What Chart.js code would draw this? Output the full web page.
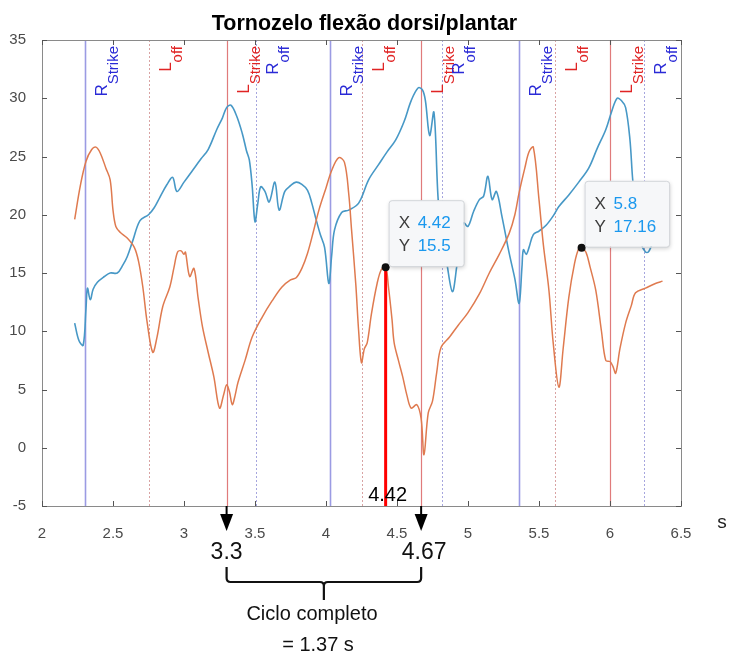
<!DOCTYPE html>
<html><head><meta charset="utf-8">
<script src="https://cdn.jsdelivr.net/npm/chart.js@4.4.1/dist/chart.umd.min.js"></script>
<style>html,body{margin:0;padding:0;background:#fff}#wrap{width:732px;height:655px}</style>
</head><body><div id="wrap"><canvas id="c" width="732" height="655"></canvas></div>
<script>
// ---- data ----
const blueT = [2.23,2.26,2.29,2.31,2.32,2.34,2.36,2.39,2.44,2.48,2.53,2.57,2.6,2.64,2.69,2.75,2.79,2.83,2.88,2.92,2.95,3.0,3.06,3.12,3.17,3.23,3.27,3.3,3.33,3.37,3.41,3.44,3.46,3.48,3.5,3.52,3.54,3.57,3.6,3.64,3.67,3.71,3.75,3.79,3.83,3.87,3.9,3.93,3.96,3.99,4.02,4.04,4.06,4.11,4.16,4.23,4.3,4.37,4.43,4.49,4.55,4.6,4.65,4.68,4.7,4.73,4.76,4.79,4.82,4.85,4.89,4.92,4.95,4.97,5.0,5.04,5.08,5.11,5.14,5.17,5.2,5.24,5.29,5.33,5.36,5.38,5.39,5.41,5.43,5.46,5.5,5.55,5.6,5.64,5.71,5.78,5.85,5.91,5.97,6.01,6.05,6.08,6.11,6.14,6.16,6.19,6.22,6.25,6.27,6.3,6.33];
const blueY = [10.7,9.2,8.8,12.0,13.7,12.7,13.6,14.2,14.7,15.0,15.0,15.7,16.4,17.8,19.5,20.0,20.6,21.5,22.6,23.2,22.0,22.8,23.8,24.8,25.6,27.3,28.3,29.2,29.4,28.5,27.0,25.5,24.7,22.5,19.4,21.0,22.4,22.0,21.1,22.8,20.4,22.0,22.5,22.8,22.6,22.1,21.0,19.6,18.3,17.2,14.1,16.5,18.7,20.2,20.4,21.0,23.0,24.3,25.4,26.4,28.0,29.8,30.9,30.7,29.8,26.8,28.8,21.3,18.0,15.9,13.4,15.5,18.5,19.3,19.0,20.3,21.3,21.6,23.3,21.3,22.0,19.8,16.7,14.5,12.4,15.5,17.0,16.6,17.2,18.3,18.6,19.1,19.9,20.7,21.7,22.8,24.0,25.7,27.3,28.8,30.0,29.8,29.2,26.5,23.0,19.5,17.5,16.8,16.8,17.5,17.8];
const orangeT = [2.23,2.27,2.31,2.35,2.38,2.41,2.45,2.48,2.5,2.52,2.55,2.6,2.65,2.68,2.71,2.74,2.78,2.81,2.85,2.9,2.93,2.955,2.98,3.0,3.01,3.04,3.07,3.1,3.13,3.17,3.21,3.25,3.28,3.3,3.32,3.34,3.36,3.38,3.43,3.48,3.55,3.62,3.69,3.75,3.79,3.83,3.87,3.91,3.95,4.0,4.04,4.09,4.13,4.16,4.18,4.21,4.23,4.25,4.27,4.29,4.32,4.36,4.39,4.42,4.44,4.465,4.48,4.51,4.54,4.57,4.6,4.64,4.67,4.69,4.72,4.75,4.78,4.81,4.87,4.93,5.0,5.08,5.15,5.22,5.29,5.33,5.36,5.4,5.43,5.46,5.5,5.53,5.57,5.6,5.64,5.67,5.71,5.75,5.78,5.8,5.83,5.86,5.9,5.94,5.97,6.0,6.02,6.04,6.07,6.11,6.15,6.18,6.25,6.32,6.37];
const orangeY = [19.6,22.5,24.6,25.6,25.8,25.3,24.0,23.0,20.4,19.0,18.5,18.0,17.2,16.0,13.8,10.8,8.2,9.5,12.1,13.8,15.5,16.8,16.9,16.6,16.8,14.7,15.4,12.8,10.4,8.2,6.1,3.4,4.6,5.4,4.8,3.7,4.5,5.6,7.5,9.5,11.2,12.6,13.8,14.4,14.6,15.4,16.7,18.5,20.4,22.3,23.8,24.9,24.5,21.8,18.7,14.0,10.0,7.3,8.5,9.0,11.5,14.1,15.3,15.5,13.8,11.0,9.0,7.5,6.1,4.5,3.4,3.7,2.5,-0.6,3.0,4.0,6.5,8.6,9.5,10.5,11.6,13.2,15.0,16.6,18.4,20.0,21.9,24.0,25.4,25.8,21.3,17.5,13.5,9.0,5.2,8.5,12.9,15.8,17.1,17.16,16.8,15.5,13.5,10.0,7.5,7.4,7.0,6.4,8.5,10.7,12.2,13.3,13.7,14.1,14.3];
const rStrike = [2.3,4.03,5.36];
const lOff = [2.75,4.25,5.61];
const lStrike = [3.3,4.67,6.0];
const rOff = [3.51,4.82,6.24];
const dataTips = [{x:4.42,y:15.5},{x:5.8,y:17.16}];
const cycleStart = 3.3, cycleEnd = 4.67, cycleLen = "1.37";
const markX = 4.42;
const titleText = "Tornozelo flexão dorsi/plantar";

const FONT = "'Liberation Sans', Arial, sans-serif";
function pts(t,y){return t.map((v,i)=>({x:v,y:y[i]}));}

const overlay = {
  id:'overlay',
  beforeDraw(chart){
    const {ctx} = chart; ctx.save(); ctx.fillStyle='#fff'; ctx.fillRect(0,0,chart.width,chart.height); ctx.restore();
  },
  beforeDatasetsDraw(chart){
    const {ctx, chartArea:a, scales:{x}} = chart;
    ctx.save();
    const vline=(v,col,w,dash)=>{const px=Math.round(x.getPixelForValue(v))+0.5;ctx.beginPath();ctx.strokeStyle=col;ctx.lineWidth=w;ctx.setLineDash(dash);ctx.moveTo(px,a.top);ctx.lineTo(px,a.bottom);ctx.stroke();};
    rStrike.forEach(v=>vline(v,'#9b9be3',1.6,[]));
    lStrike.forEach(v=>vline(v,'#e07b7b',1.2,[]));
    lOff.forEach(v=>vline(v,'#d9a3a3',1,[2,2]));
    rOff.forEach(v=>vline(v,'#a6a6de',1,[2,2]));
    ctx.setLineDash([]);
    // labels
    const lab=(v,main,sub,col)=>{
      const px=x.getPixelForValue(v)+22;
      ctx.save();
      ctx.font='17px '+FONT; const w1=ctx.measureText(main).width;
      ctx.font='15px '+FONT; const w2=ctx.measureText(sub).width;
      const yb=a.top+6+w1+w2;
      ctx.translate(px,yb); ctx.rotate(-Math.PI/2);
      ctx.fillStyle=col; ctx.textBaseline='alphabetic';
      ctx.font='17px '+FONT; ctx.fillText(main,0,0);
      ctx.font='15px '+FONT; ctx.fillText(sub,w1,11);
      ctx.restore();
    };
    rStrike.forEach(v=>lab(v,'R','Strike','#2a2ad6'));
    lOff.forEach(v=>lab(v,'L','off','#e02424'));
    lStrike.forEach(v=>lab(v,'L','Strike','#e02424'));
    rOff.forEach(v=>lab(v,'R','off','#2a2ad6'));
    ctx.restore();
  },
  afterDatasetsDraw(chart){
    const {ctx, chartArea:a, scales:{x,y}} = chart;
    ctx.save();
    // box & ticks
    ctx.strokeStyle='#8a8a8a'; ctx.lineWidth=1;
    ctx.strokeRect(a.left+0.5,a.top+0.5,a.right-a.left,a.bottom-a.top);
    ctx.strokeStyle='#555';
    x.ticks.forEach(t=>{const px=Math.round(x.getPixelForValue(t.value))+0.5;ctx.beginPath();ctx.moveTo(px,a.bottom);ctx.lineTo(px,a.bottom-5);ctx.moveTo(px,a.top);ctx.lineTo(px,a.top+5);ctx.stroke();});
    y.ticks.forEach(t=>{const py=Math.round(y.getPixelForValue(t.value))+0.5;ctx.beginPath();ctx.moveTo(a.left,py);ctx.lineTo(a.left+5,py);ctx.moveTo(a.right,py);ctx.lineTo(a.right-5,py);ctx.stroke();});
    // red marker line
    const mx=x.getPixelForValue(markX);
    ctx.beginPath();ctx.strokeStyle='#ff0000';ctx.lineWidth=3;ctx.moveTo(mx,y.getPixelForValue(-5));ctx.lineTo(mx,y.getPixelForValue(dataTips[0].y));ctx.stroke();
    // markers & datatips
    dataTips.forEach(d=>{
      const px=x.getPixelForValue(d.x), py=y.getPixelForValue(d.y);
      ctx.beginPath();ctx.fillStyle='#111';ctx.arc(px,py,4,0,Math.PI*2);ctx.fill();
      ctx.font='17px '+FONT;
      const xs=String(d.x), ys=String(d.y);
      const vw=Math.max(ctx.measureText(xs).width,ctx.measureText(ys).width);
      const bx=px+3, bw=30+vw+12, bh=66, by=py-67;
      ctx.save();ctx.shadowColor='rgba(0,0,0,0.18)';ctx.shadowBlur=4;ctx.shadowOffsetX=1;ctx.shadowOffsetY=2;
      ctx.beginPath();ctx.roundRect(bx,by,bw,bh,3);ctx.fillStyle='#f6f7f9';ctx.fill();ctx.restore();
      ctx.beginPath();ctx.roundRect(bx+0.5,by+0.5,bw,bh,3);ctx.strokeStyle='#d3d6da';ctx.lineWidth=1;ctx.stroke();
      ctx.textBaseline='middle';ctx.textAlign='left';
      ctx.fillStyle='#3c3c3c';ctx.fillText('X',bx+10,by+23);ctx.fillText('Y',bx+10,by+46);
      ctx.fillStyle='#1a98ee';ctx.fillText(xs,bx+29,by+23);ctx.fillText(ys,bx+29,by+46);
    });
    ctx.restore();
  },
  afterDraw(chart){
    const {ctx, chartArea:a, scales:{x}} = chart;
    ctx.save();
    ctx.fillStyle='#000';ctx.textAlign='center';ctx.textBaseline='middle';
    ctx.font='bold 21.5px '+FONT; ctx.fillText(titleText,(a.left+a.right)/2+3,24);
    ctx.font='20px '+FONT; ctx.fillText(String(markX),x.getPixelForValue(markX)+2,495);
    ctx.fillStyle='#222';ctx.font='19px '+FONT; ctx.fillText('s',722,523);
    // arrows
    const x1=x.getPixelForValue(cycleStart), x2=x.getPixelForValue(cycleEnd);
    [x1,x2].forEach(px=>{
      ctx.beginPath();ctx.strokeStyle='#000';ctx.lineWidth=2;ctx.moveTo(px,a.bottom);ctx.lineTo(px,515);ctx.stroke();
      ctx.beginPath();ctx.fillStyle='#000';ctx.moveTo(px-6.5,514);ctx.lineTo(px+6.5,514);ctx.lineTo(px,531);ctx.closePath();ctx.fill();
    });
    ctx.fillStyle='#111';ctx.font='23px '+FONT;
    ctx.fillText(String(cycleStart),x1,553);ctx.fillText(String(cycleEnd),x2+3,553);
    // bracket
    const mid=(x1+x2)/2;
    ctx.beginPath();ctx.strokeStyle='#111';ctx.lineWidth=2.2;
    ctx.moveTo(x1,567);ctx.lineTo(x1,578);ctx.quadraticCurveTo(x1,582,x1+4,582);
    ctx.lineTo(mid-4,582);ctx.quadraticCurveTo(mid,582,mid,586);ctx.lineTo(mid,600);
    ctx.moveTo(mid,586);ctx.quadraticCurveTo(mid,582,mid+4,582);ctx.lineTo(x2-4,582);ctx.quadraticCurveTo(x2,582,x2,578);ctx.lineTo(x2,567);
    ctx.stroke();
    ctx.font='20px '+FONT;ctx.fillStyle='#111';
    ctx.fillText('Ciclo completo',312,614);
    ctx.fillText('= 1.37 s'.replace('1.37',cycleLen),318,645);
    ctx.restore();
  }
};

new Chart(document.getElementById('c'),{
  type:'line',
  data:{datasets:[
    {data:pts(orangeT,orangeY),borderColor:'#df7a4f',borderWidth:1.5,pointRadius:0,tension:0.35,fill:false},
    {data:pts(blueT,blueY),borderColor:'#4798c6',borderWidth:1.6,pointRadius:0,tension:0.35,fill:false}
  ]},
  options:{
    responsive:false,animation:false,
    layout:{padding:{top:40,right:51,left:0,bottom:0}},
    plugins:{legend:{display:false},tooltip:{enabled:false},title:{display:false}},
    scales:{
      x:{type:'linear',min:2,max:6.5,
        ticks:{stepSize:0.5,color:'#4a4a4a',font:{size:15,family:FONT},padding:11,maxRotation:0,autoSkip:false,callback:v=>String(v)},
        grid:{display:false},border:{display:false},
        afterFit(s){s.height=149;}},
      y:{min:-5,max:35,
        ticks:{stepSize:5,color:'#4a4a4a',font:{size:15,family:FONT},padding:8,callback:v=>String(v)},
        grid:{display:false},border:{display:false},
        afterFit(s){s.width=42;}}
    }
  },
  plugins:[overlay]
});
</script></body></html>
